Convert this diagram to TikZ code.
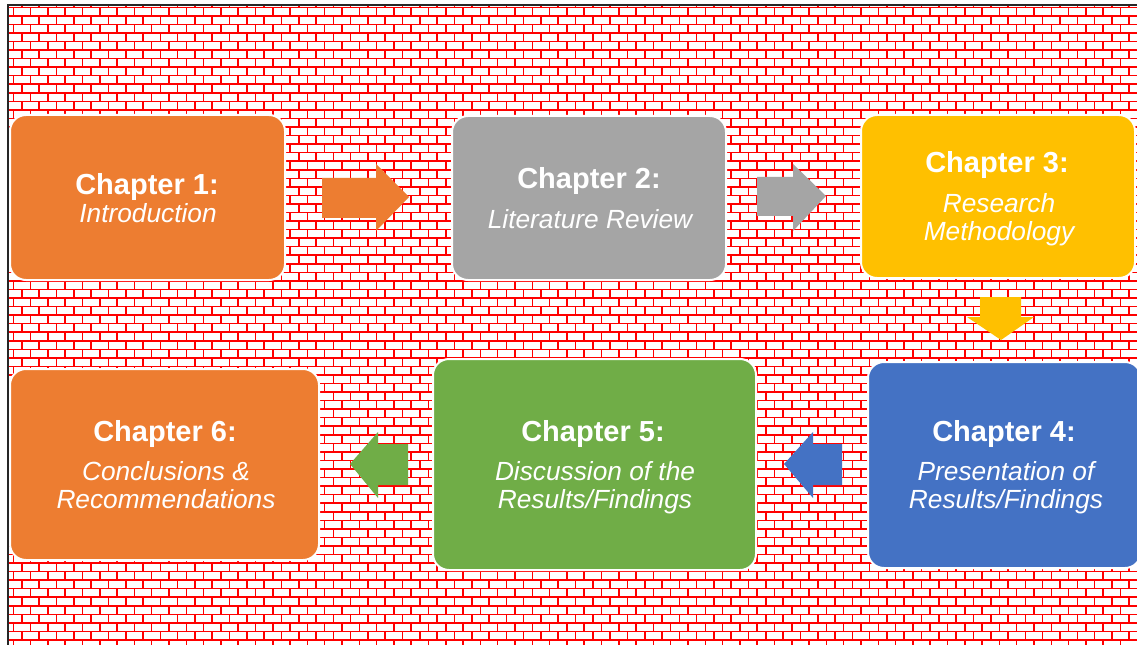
\documentclass[tikz,border=0pt]{standalone}
\usepackage{fontspec}
\setmainfont{Liberation Sans}
\definecolor{cOrange}{HTML}{ED7D31}
\definecolor{cGray}{HTML}{A5A5A5}
\definecolor{cYellow}{HTML}{FFC000}
\definecolor{cBlue}{HTML}{4472C4}
\definecolor{cGreen}{HTML}{70AD47}
\definecolor{brick}{HTML}{FF0000}
\tikzset{
  chapbox/.style={draw=white, line width=1.5pt, rounded corners=12pt, inner sep=0pt, outer sep=0pt},
  headtxt/.style={text=white, anchor=base, inner sep=0pt, font=\fontsize{21.75}{24}\selectfont\bfseries},
  subtxt/.style={text=white, anchor=base, inner sep=0pt, font=\fontsize{19.7}{22}\selectfont\itshape},
  mortar/.style={draw=brick, line width=1.15pt},
  blockarrow/.style={draw=none}
}
\begin{document}
\begin{tikzpicture}[x=0.75pt,y=-0.75pt]
\useasboundingbox (0,0) rectangle (1137,645);
\fill[white] (0,0) rectangle (1137,645);

% brick wall background
\begin{scope}
  \clip (8,5) rectangle (1137,645);
  \foreach \k in {0,...,74} {
    \draw[mortar] (8,{7.3+8.55*\k}) -- (1137,{7.3+8.55*\k});
  }
  \foreach \m in {0,...,65} {
    \draw[mortar, dash pattern=on 6.4125pt off 6.4125pt] ({13.3+17.3*\m},7.3) -- ({13.3+17.3*\m},660);
    \draw[mortar, dash pattern=on 6.4125pt off 6.4125pt] ({21.95+17.3*\m},-1.25) -- ({21.95+17.3*\m},660);
  }
\end{scope}

% frame edges
\draw[black!85, line width=1.5pt] (8,645) -- (8,5) -- (1137,5);

% chapter boxes
\node[chapbox, fill=cOrange, minimum width=206.25pt, minimum height=123.75pt] (b1) at (147.5,197.5) {};
\node[chapbox, fill=cGray,   minimum width=205.5pt,  minimum height=123pt]    (b2) at (589,198) {};
\node[chapbox, fill=cYellow, minimum width=205.5pt,  minimum height=122.25pt] (b3) at (998,196.5) {};
\node[chapbox, fill=cBlue,   minimum width=204.75pt, minimum height=154.5pt]  (b4) at (1004.5,465) {};
\node[chapbox, fill=cGreen,  minimum width=242.25pt, minimum height=158.25pt] (b5) at (594.5,464.5) {};
\node[chapbox, fill=cOrange, minimum width=231.75pt, minimum height=143.25pt] (b6) at (164.5,464.5) {};

% chapter titles
\node[headtxt] (h1) at (147,194.5) {Chapter 1:};
\node[subtxt]  (s1) at (148,222.5) {Introduction};

\node[headtxt] (h2) at (589,188.5) {Chapter 2:};
\node[subtxt]  (s2) at (590,228.5) {Literature Review};

\node[headtxt] (h3) at (997,172.5) {Chapter 3:};
\node[subtxt]  (s3a) at (999,212.5) {Research};
\node[subtxt]  (s3b) at (999,240.5) {Methodology};

\node[headtxt] (h4) at (1004,441.5) {Chapter 4:};
\node[subtxt]  (s4a) at (1006,480.5) {Presentation of};
\node[subtxt]  (s4b) at (1006,508.5) {Results/Findings};

\node[headtxt] (h5) at (593,441.5) {Chapter 5:};
\node[subtxt]  (s5a) at (595,480.5) {Discussion of the};
\node[subtxt]  (s5b) at (595,508.5) {Results/Findings};

\node[headtxt] (h6) at (165,441.5) {Chapter 6:};
\node[subtxt]  (s6a) at (166,480) {Conclusions \&};
\node[subtxt]  (s6b) at (166,508.5) {Recommendations};

% block arrows between chapters
\fill[blockarrow, cOrange] (322,178) -- (376,178) -- (376,164) -- (409,197) -- (376,231) -- (376,218) -- (322,218) -- cycle;
\fill[blockarrow, cGray]   (757,177) -- (793,177) -- (793,164) -- (826,196) -- (793,231) -- (793,216) -- (757,216) -- cycle;
\fill[blockarrow, cYellow] (980,297) -- (1021,297) -- (1021,317) -- (1034,317) -- (1001,340) -- (967,317) -- (980,317) -- cycle;
\fill[blockarrow, cBlue]   (842,444) -- (813,444) -- (813,432) -- (784,464) -- (813,498) -- (813,485) -- (842,485) -- cycle;
\fill[blockarrow, cGreen]  (408,444) -- (378,444) -- (378,432) -- (350,464) -- (378,498) -- (378,485) -- (408,485) -- cycle;
\end{tikzpicture}
\end{document}
